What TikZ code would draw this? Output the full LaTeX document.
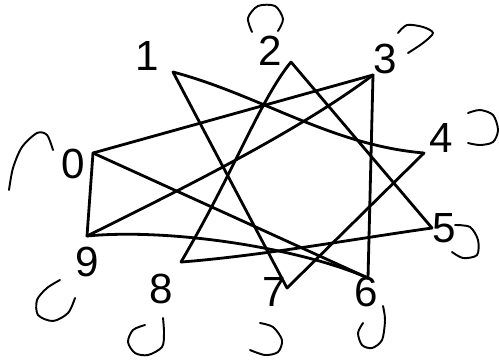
\documentclass[tikz,border=0pt]{standalone}
\usepackage{fontspec}
\setmainfont{Liberation Sans}
\begin{document}
\begin{tikzpicture}[x=0.02cm,y=-0.02cm,line join=round,line cap=round,font=\fontsize{24}{28}\selectfont,
	edge/.style={line width=1.6pt},
	hook/.style={line width=1.1pt}]
\useasboundingbox (0,0) rectangle (499,360);
\coordinate (p1) at (173,72);
\coordinate (p2) at (291,62);
\coordinate (p3) at (373,75);
\coordinate (p4) at (424,153);
\coordinate (p5) at (432,228);
\coordinate (p6) at (368,278);
\coordinate (p7) at (287,288);
\coordinate (p8) at (181,262);
\coordinate (p9) at (87,236);
\coordinate (p0) at (93,153);
\node (t1) at (147,56) {1};
\node (t2) at (270,51) {2};
\node (t3) at (385,59) {3};
\node (t4) at (441,138) {4};
\node (t5) at (444,228) {5};
\node (t6) at (366,292) {6};
\node (t7) at (274,292) {7};
\node (t8) at (161,289) {8};
\node (t9) at (87,262) {9};
\node (t0) at (73,164) {0};
\draw[edge](p1) .. controls (260,95) and (330,145) .. (p4);
\draw[edge](p1)--(p7);
\draw[edge](p4)--(p7);
\draw[edge](p2) .. controls (260,100) and (235,170) .. (p8);
\draw[edge](p2)--(p5);
\draw[edge](p8) .. controls (260,256) and (360,238) .. (p5);
\draw[edge](p3)--(p0);
\draw[edge](p3) .. controls (300,130) and (190,185) .. (p9);
\draw[edge](p3)--(p6);
\draw[edge](p0)--(p9);
\draw[edge](p0)--(p6);
\draw[edge](p9) .. controls (170,228) and (300,248) .. (p6);
\draw[hook] plot[smooth] coordinates {(53,150) (47,135) (37,133) (22,147) (13,168) (9,190)};
\draw[hook] plot[smooth] coordinates {(252,32) (248,18) (258,6) (275,6) (283,19) (278,31)};
\draw[hook] plot[smooth] coordinates {(398,33) (407,25) (423,27) (433,33) (423,43) (408,53)};
\draw[hook] plot[smooth] coordinates {(468,113) (480,110) (493,115) (498,130) (493,142) (480,145) (468,143)};
\draw[hook] plot[smooth] coordinates {(455,225) (470,227) (478,240) (477,255) (463,258) (452,252)};
\draw[hook] plot[smooth] coordinates {(363,323) (358,333) (362,345) (372,348) (382,340) (385,320) (383,306)};
\draw[hook] plot[smooth] coordinates {(260,323) (273,327) (282,340) (278,352) (265,355) (250,350)};
\draw[hook] plot[smooth] coordinates {(145,325) (133,330) (128,342) (135,353) (148,355) (162,347) (164,333) (163,318)};
\draw[hook] plot[smooth] coordinates {(60,280) (47,288) (37,300) (38,315) (53,321) (68,313) (75,298)};
\end{tikzpicture}
\end{document}
